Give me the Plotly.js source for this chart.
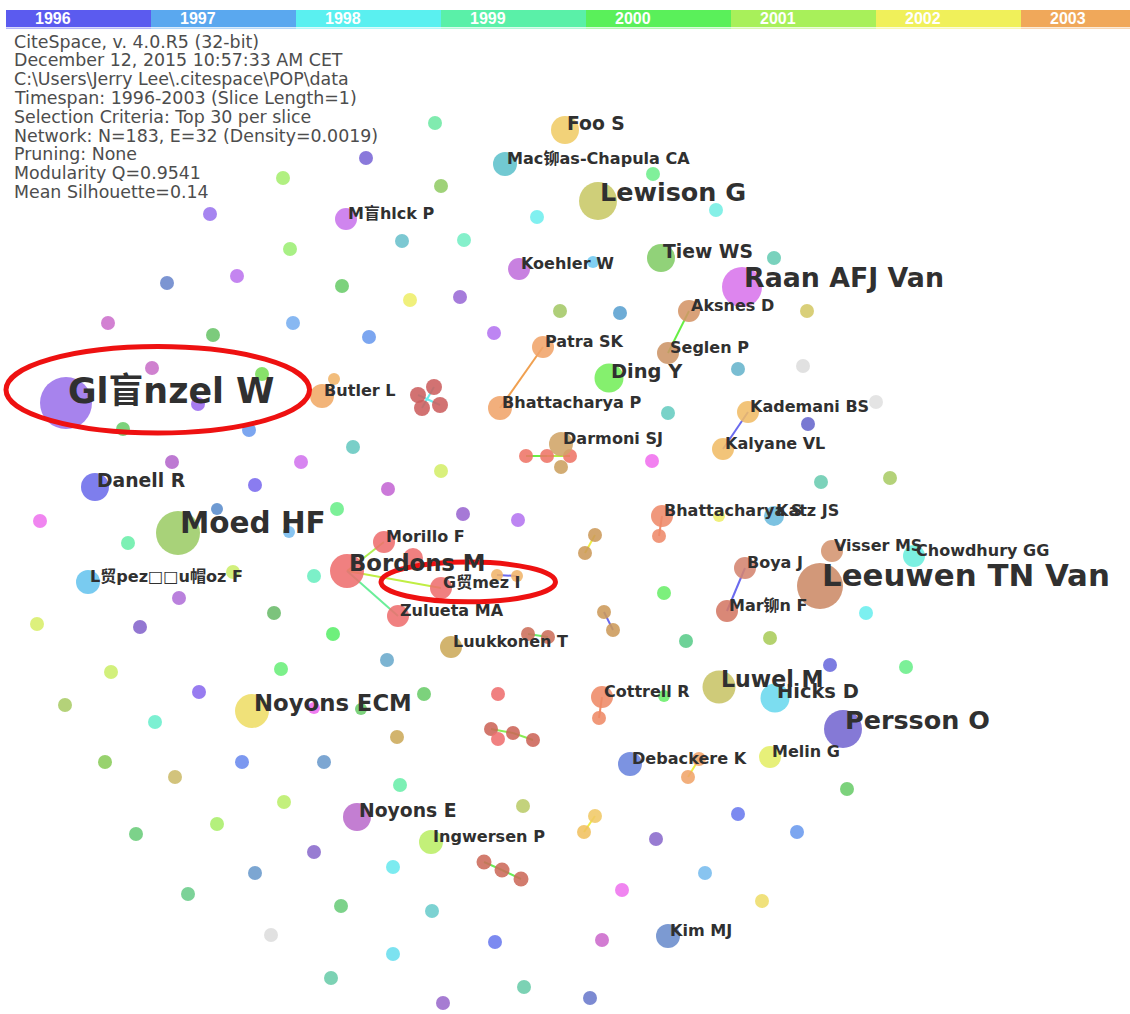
<!DOCTYPE html>
<html><head><meta charset="utf-8">
<script src="https://cdn.plot.ly/plotly-3.0.1.min.js"></script>
<style>html,body{margin:0;padding:0;background:#fff;overflow:hidden}#chart{width:1130px;height:1014px}</style>
</head><body><div id="chart"></div>
<script>
// ---------------- DATA ----------------
const years = ["1996","1997","1998","1999","2000","2001","2002","2003"];
const yearColors = ["#5b5bef","#5aa8ef","#5af0f0","#5af0a8","#5af05a","#a8f05a","#f0f05a","#f0a85a"];

const infoLines = [
  "CiteSpace, v. 4.0.R5 (32-bit)",
  "December 12, 2015 10:57:33 AM CET",
  "C:\\Users\\Jerry Lee\\.citespace\\POP\\data",
  "Timespan: 1996-2003 (Slice Length=1)",
  "Selection Criteria: Top 30 per slice",
  "Network: N=183, E=32 (Density=0.0019)",
  "Pruning: None",
  "Modularity Q=0.9541",
  "Mean Silhouette=0.14"
];

// labelled author nodes
const authorNames = ["Gl盲nzel W","Moed HF","Leeuwen TN Van","Raan AFJ Van","Lewison G","Persson O","Bordons M","Noyons ECM","Luwel M","Hicks D",
  "Ding Y","Tiew WS","Foo S","Danell R","Noyons E","Ingwersen P","Mac铆as-Chapula CA","M盲hlck P","Koehler W","Aksnes D",
  "Patra SK","Seglen P","Butler L","Bhattacharya P","Darmoni SJ","Kademani BS","Kalyane VL","Bhattacharya S","Katz JS","Visser MS",
  "Chowdhury GG","Boya J","Mar铆n F","L贸pez□□u帽oz F","Morillo F","G贸mez I","Zulueta MA","Luukkonen T","Cottrell R","Melin G",
  "Debackere K","Kim MJ"];
const authorX = [66,178,820,742,598,843,347,252,719,775, 609,661,565,95,357,431,505,346,519,689, 543,668,322,500,561,748,723,662,774,832, 914,745,727,88,384,441,398,451,602,770, 630,668];
const authorY = [403,533,586,287,201,729,571,711,687,698, 378,258,130,487,817,842,164,219,269,311, 347,353,396,408,444,412,449,516,516,551, 556,568,611,582,542,588,616,647,697,757, 764,936];
const authorSize = [52,44,46,40,38,38,34,34,33,29, 29,28,28,28,28,24,24,22,22,22, 22,22,24,24,24,22,22,22,20,22, 22,22,22,24,22,22,22,22,22,22, 24,24];
const authorColor = ["#9b72ea","#9ccc66","#cc8a66","#d874ec","#c8c866","#7466d0","#ee6e6e","#eedd66","#c8c466","#6ad8ee",
  "#74ee5a","#82cc66","#f0cc66","#6c6cea","#bb6ccc","#bbee66","#5ec2cc","#c874ec","#c070dc","#d49466",
  "#f0a46a","#cc9466","#f0aa66","#f0a46a","#d0a466","#f0bc66","#f0bc66","#ee8a6a","#6abadd","#d49470",
  "#6aeedd","#d48470","#d47864","#66c4ee","#ee6e6e","#ee6e6e","#ee6e6e","#ccaa5a","#ee8a66","#e4ee66",
  "#6a84dd","#6a8ccc"];

// unlabelled nodes that take part in links
const linkIds = ["#g1","#g2","#d1","#d2","#d3","#d4","#u1","#u2","#u3","#u4","#l1","#l2","#t1","#t2","#y1","#y2","#r1","#r2","#r3","#r4","#c1","#c2","#c3","#o1","#o2","#p1","#p2","#q1","#s1"];
const linkX = [497,517,526,547,570,561,434,418,440,422,528,548,604,613,595,585,491,498,513,533,484,502,521,699,688,595,584,599,659];
const linkY = [575,576,456,456,456,467,387,395,405,408,634,637,612,630,535,553,729,739,733,740,862,870,879,759,777,816,832,718,536];
const linkSize = [12,12,14,14,14,14,16,16,16,16,14,14,14,14,14,14,14,14,14,14,15,15,15,14,14,14,14,14,14];
const linkColor = ["#f0b46a","#f0b46a","#ee7466","#ee7466","#ee7466","#cca060","#cc5e5e","#cc5e5e","#cc5e5e","#cc5e5e","#cc6e5a","#cc6e5a","#cc9a5a","#cc9a5a","#cc9a5a","#cc9a5a","#cc6458","#ee7070","#cc6458","#cc6458","#cc6a5a","#cc6a5a","#cc6a5a","#f0a46a","#f0a46a","#f0c866","#f0c060","#ee8a66","#ee8a6a"];

// other isolated nodes
const otherX = [435,366,283,441,210,290,237,167,342,108, 213,293,369,402,464,410,460,537,653,716, 560,620,593,774,807,494,738,803,876,808,
  668,652,890,821,719,152,262,198,123,249, 353,172,301,255,388,441,463,518,40,217, 289,337,128,233,179,37,140,274,314,333,
  413,334,664,686,770,866,830,906,387,424, 498,397,664,847,656,738,797,705,622,762, 602,590,111,65,199,155,281,314,361,105,
  175,242,324,400,284,217,523,136,314,255, 393,188,341,432,271,393,495,331,443,524];
const otherY = [123,158,178,186,214,249,276,283,286,323, 335,323,337,241,240,300,297,217,174,210, 311,313,262,258,311,333,369,366,402,424,
  413,461,478,482,516,368,374,404,429,430, 447,462,462,485,489,471,514,520,521,509, 532,509,543,572,598,624,627,613,576,634,
  558,379,593,641,638,613,665,667,660,694, 694,737,696,789,839,814,832,873,890,901, 940,998,672,705,692,722,669,708,709,762,
  777,762,762,785,802,824,806,834,852,873, 867,894,906,911,935,954,942,978,1003,987];
const otherSize = [14,14,14,14,14,14,14,14,14,14, 14,14,14,14,14,14,14,14,14,14, 14,14,12,14,14,14,14,14,14,14,
  14,14,14,14,12,14,14,14,14,14, 14,14,14,14,14,14,14,14,14,12, 12,14,14,14,14,14,14,14,14,14,
  20,12,14,14,14,14,14,14,14,14, 14,14,12,14,14,14,14,14,14,14, 14,14,14,14,14,14,14,12,12,14,
  14,14,14,14,14,14,14,14,14,14, 14,14,14,14,14,14,14,14,14,14];
const otherColor = ["#6ee8a4","#7a66d6","#a6ee70","#92cc66","#9a74ee","#9cee74","#bc74ee","#6a86cc","#6acc6a","#cc70cc",
  "#6ac46a","#78aef0","#6a9aee","#6ac0cc","#74eec4","#eeee6a","#9a6ad6","#70eeee","#6eee8c","#74eee4",
  "#a4c866","#5aa0d0","#70c8f0","#66ccb4","#d4c866","#b474f0","#66b4cc","#dddddd","#e0e0e0","#6666cc",
  "#66ccc0","#f070ee","#aacc66","#6accb0","#eeee6a","#c870c8","#77dd55","#9a6aee","#6acc6a","#6a9aee",
  "#66c8c0","#b466cc","#d274ee","#7a6aee","#c466d4","#d4ee6a","#9a66d0","#b474f0","#ee74ee","#5a8ccc",
  "#78bcee","#6aee8a","#6aeeaa","#ccee6a","#b070d8","#d8ee6a","#8464cc","#6abb6a","#6aeec0","#5aee6a",
  "#ee6e6e","#f0b46a","#6aee6a","#5acc8a","#aacc5a","#6aeeee","#6a6add","#6aee8a","#6aaacc","#6acc6a",
  "#ee6e6e","#ccaa5a","#6aee6a","#6acc6a","#8a6acc","#6a7aee","#6a9aee","#78bcee","#ee74ee","#eedd6a",
  "#cc6acc","#6a7acc","#ccee6a","#aacc66","#8a6aee","#6aeecc","#6aee7a","#ee6aee","#6acc6a","#8acc5a",
  "#ccbb6a","#6a8aee","#6a9acc","#6aeeaa","#bbee6a","#aaee6a","#bbcc6a","#6acc7a","#8a6acc","#6a9acc",
  "#6ae8ee","#6acc8a","#6acc7a","#6acccc","#dddddd","#6adeee","#6a7aee","#6accaa","#9a6acc","#6accaa"];

// co-authorship links
const edgeFrom = ["Aksnes D","Patra SK","Kademani BS","Boya J","Bordons M","Bordons M","Bordons M","#g1","#d1","#d2","#u1","#u2","#l1","#t1","#y1","#r1","#r3","#c1","#c2","#o1","#p1","Cottrell R","Bhattacharya S"];
const edgeTo   = ["Seglen P","Bhattacharya P","Kalyane VL","Mar铆n F","Morillo F","G贸mez I","Zulueta MA","#g2","#d2","#d3","#u4","#u3","#l2","#t2","#y2","#r3","#r4","#c2","#c3","#o2","#p2","#q1","#s1"];
const edgeColor = ["#66ee44","#f0a050","#6a6aee","#6a6aee","#b0ee55","#c0ee44","#6aee99","#6a6aee","#6aee44","#b0ee44","#6aeeee","#6aeeee","#6aee6a","#6a6aee","#eeee44","#8aee55","#8aee55","#6aee55","#6aee55","#eeee44","#eeee44","#ee8a66","#ee8a6a"];

const highlighted = ["Gl盲nzel W","G贸mez I"];

// ---------------- BUILD ----------------
const pos = {};
authorNames.forEach((n,i)=>pos[n]=[authorX[i],authorY[i]]);
linkIds.forEach((n,i)=>pos[n]=[linkX[i],linkY[i]]);

const traces = [];
edgeFrom.forEach((a,i)=>{
  const p=pos[a], q=pos[edgeTo[i]];
  traces.push({type:'scatter',mode:'lines',x:[p[0],q[0]],y:[p[1],q[1]],
    line:{color:edgeColor[i],width:2},hoverinfo:'skip',xaxis:'x',yaxis:'y'});
});
traces.push({type:'scatter',mode:'markers',x:otherX,y:otherY,hoverinfo:'skip',
  marker:{size:otherSize,color:otherColor,opacity:0.88,line:{width:0}}});
traces.push({type:'scatter',mode:'markers',x:linkX,y:linkY,hoverinfo:'skip',
  marker:{size:linkSize,color:linkColor,opacity:0.88,line:{width:0}}});
traces.push({type:'scatter',mode:'markers',x:authorX,y:authorY,hoverinfo:'skip',
  marker:{size:authorSize,color:authorColor,opacity:0.88,line:{width:0}}});

// year bar
const lighten = c => { const r=parseInt(c.slice(1,3),16),g=parseInt(c.slice(3,5),16),b=parseInt(c.slice(5,7),16);
  const f=v=>Math.round(v+(255-v)*0.55); return `rgb(${f(r)},${f(g)},${f(b)})`; };
const yIdx = years.map((_,i)=>i);
traces.push({type:'bar',x:yIdx,y:years.map(()=>1.6),base:0,width:1,xaxis:'x2',yaxis:'y2',
  marker:{color:yearColors.map(lighten),line:{width:0}},hoverinfo:'skip'});
traces.push({type:'bar',x:yIdx,y:years.map(()=>17),base:2,width:1,xaxis:'x2',yaxis:'y2',
  marker:{color:yearColors,line:{width:0}},hoverinfo:'skip'});

const labelFamily = '"DejaVu Sans", "Noto Sans CJK SC", sans-serif';
const fsOf = s => Math.max(16, 0.67*s);
const annotations = [];
authorNames.forEach((n,i)=>{
  const fs = fsOf(authorSize[i]);
  annotations.push({x:authorX[i],y:authorY[i],xref:'x',yref:'y',text:n,showarrow:false,
    xanchor:'left',yanchor:'middle',yshift:0.35*fs,xshift:0,
    font:{family:labelFamily,size:fs,color:'#303030',weight:'bold'}});
});
infoLines.forEach((t,i)=>{
  annotations.push({x:12,y:41.5+18.8*i,xref:'x',yref:'y',text:t,showarrow:false,xanchor:'left',yanchor:'middle',
    font:{family:'"DejaVu Sans", sans-serif',size:17.4,color:'#4d4d4d'}});
});
years.forEach((t,i)=>{
  annotations.push({x:i,y:10.5,xref:'x2',yref:'y2',text:t,showarrow:false,xanchor:'center',yanchor:'middle',xshift:-26,
    font:{family:'"Liberation Sans Narrow", "Liberation Sans", sans-serif',size:16,color:'#ffffff',weight:'bold'}});
});

// highlight ellipses around selected labels
const cv = document.createElement('canvas').getContext('2d');
const shapes = highlighted.map(n=>{
  const i = authorNames.indexOf(n), fs = fsOf(authorSize[i]);
  cv.font = `bold ${fs}px "DejaVu Sans", "Noto Sans CJK SC", sans-serif`;
  const w = cv.measureText(n).width;
  const cy = authorY[i] - 0.38*fs;
  return {type:'circle',xref:'x',yref:'y',x0:authorX[i]-60,x1:authorX[i]+w+37,y0:cy-1.24*fs,y1:cy+1.24*fs,
    line:{color:'#ee1111',width:5},fillcolor:'rgba(0,0,0,0)',layer:'above'};
});

const r0 = -0.5 - 6/145;
const layout = {
  width:1130,height:1014,margin:{l:0,r:0,t:0,b:0,pad:0},
  paper_bgcolor:'#ffffff',plot_bgcolor:'rgba(0,0,0,0)',showlegend:false,hovermode:false,barmode:'overlay',
  xaxis:{range:[0,1130],visible:false,domain:[0,1],fixedrange:true},
  yaxis:{range:[1014,0],visible:false,domain:[0,1],fixedrange:true},
  xaxis2:{range:[r0,r0+1130/145],visible:false,domain:[0,1],anchor:'y2',fixedrange:true},
  yaxis2:{range:[0,19],visible:false,domain:[1-29/1014,1-10/1014],anchor:'x2',fixedrange:true},
  shapes:shapes,annotations:annotations
};
Plotly.newPlot('chart',traces,layout,{staticPlot:true,displayModeBar:false});
</script></body></html>
